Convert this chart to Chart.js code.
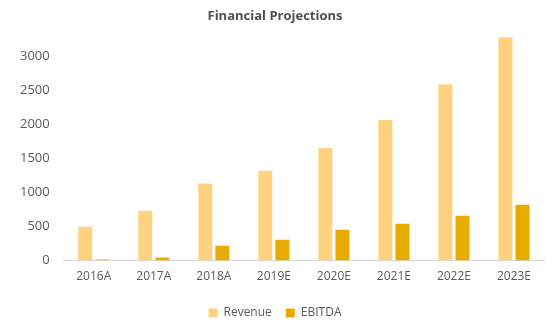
<!DOCTYPE html>
<html>
<head>
<meta charset="utf-8">
<script src="https://cdn.jsdelivr.net/npm/chart.js@4/dist/chart.umd.min.js"></script>
<style>
html,body{margin:0;padding:0;background:#fff;}
#wrap{width:558px;height:333px;position:relative;}
</style>
</head>
<body>
<div id="wrap"><canvas id="c" width="558" height="333"></canvas></div>
<script>
const categories = ["2016A","2017A","2018A","2019E","2020E","2021E","2022E","2023E"];
const revenue = [497, 731, 1130, 1316, 1652, 2061, 2588, 3275];
const ebitda = [15, 44, 219, 307, 453, 541, 658, 819];
const yTicks = [0, 500, 1000, 1500, 2000, 2500, 3000];

const FONT = "'Open Sans', 'Liberation Sans', sans-serif";
const TXT = '#595959';

new Chart(document.getElementById('c'), {
  type: 'bar',
  data: {
    labels: categories,
    datasets: [
      {label: 'Revenue', data: revenue, backgroundColor: '#FFD27F', categoryPercentage: 0.57, barPercentage: 0.82},
      {label: 'EBITDA', data: ebitda, backgroundColor: '#E8AC00', categoryPercentage: 0.57, barPercentage: 0.82}
    ]
  },
  options: {
    responsive: false,
    animation: false,
    devicePixelRatio: 1,
    layout: {padding: {left: 6, right: 14, top: 6, bottom: 4}},
    plugins: {
      title: {display: true, text: 'Financial Projections', color: '#505050',
        font: {family: FONT, size: 13, weight: 'bold'}, padding: {top: 2, bottom: 12}},
      legend: {position: 'bottom', labels: {color: TXT, boxWidth: 9, boxHeight: 9,
        font: {family: FONT, size: 12}, padding: 14}},
      tooltip: {enabled: false}
    },
    scales: {
      x: {
        grid: {display: false, drawTicks: false},
        border: {display: true, color: '#D9D9D9', width: 1},
        ticks: {color: TXT, font: {family: FONT, size: 12}, padding: 9}
      },
      y: {
        min: 0, max: 3300,
        grid: {display: false, drawTicks: false},
        border: {display: false},
        afterBuildTicks: (axis) => { axis.ticks = yTicks.map(v => ({value: v})); },
        ticks: {color: TXT, font: {family: FONT, size: 13}, padding: 14, callback: (v) => String(v)}
      }
    }
  }
});
</script>
</body>
</html>
